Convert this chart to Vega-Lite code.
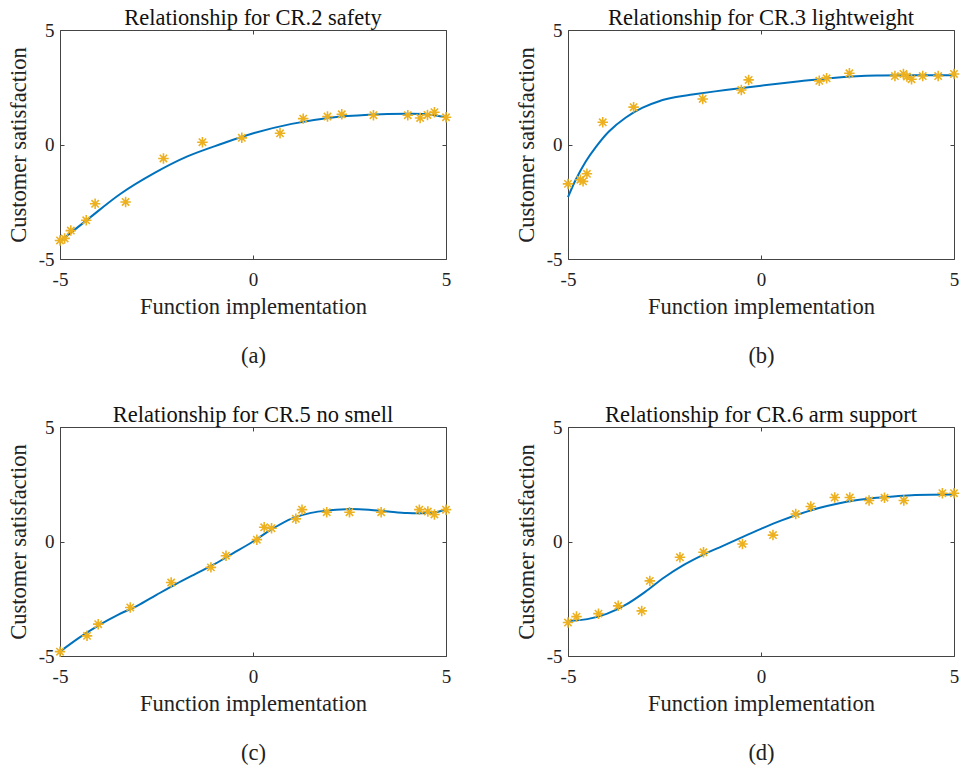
{
  "$schema": "https://vega.github.io/schema/vega-lite/v6.json",
  "background": "white",
  "padding": {"left": 6, "top": 6, "right": 5, "bottom": 5},
  "bounds": "flush",
  "spacing": {"row": 168, "column": 122},
  "columns": 2,
  "datasets": {
    "points": [
      {"p": "a", "x": -5, "y": -4.19}, {"p": "a", "x": -4.88, "y": -4.1}, {"p": "a", "x": -4.72, "y": -3.76},
      {"p": "a", "x": -4.32, "y": -3.31}, {"p": "a", "x": -4.09, "y": -2.59}, {"p": "a", "x": -3.3, "y": -2.51},
      {"p": "a", "x": -2.32, "y": -0.61}, {"p": "a", "x": -1.31, "y": 0.1}, {"p": "a", "x": -0.29, "y": 0.29},
      {"p": "a", "x": 0.7, "y": 0.49}, {"p": "a", "x": 1.3, "y": 1.13}, {"p": "a", "x": 1.93, "y": 1.22},
      {"p": "a", "x": 2.3, "y": 1.32}, {"p": "a", "x": 3.12, "y": 1.28}, {"p": "a", "x": 4.01, "y": 1.28},
      {"p": "a", "x": 4.33, "y": 1.16}, {"p": "a", "x": 4.52, "y": 1.29}, {"p": "a", "x": 4.7, "y": 1.41},
      {"p": "a", "x": 5, "y": 1.19},
      {"p": "b", "x": -5, "y": -1.72}, {"p": "b", "x": -4.68, "y": -1.54}, {"p": "b", "x": -4.61, "y": -1.61},
      {"p": "b", "x": -4.51, "y": -1.28}, {"p": "b", "x": -4.1, "y": 0.97}, {"p": "b", "x": -3.3, "y": 1.63},
      {"p": "b", "x": -1.51, "y": 1.99}, {"p": "b", "x": -0.51, "y": 2.38}, {"p": "b", "x": -0.32, "y": 2.82},
      {"p": "b", "x": 1.51, "y": 2.78}, {"p": "b", "x": 1.7, "y": 2.89}, {"p": "b", "x": 2.29, "y": 3.11},
      {"p": "b", "x": 3.47, "y": 2.99}, {"p": "b", "x": 3.69, "y": 3.08}, {"p": "b", "x": 3.78, "y": 2.97},
      {"p": "b", "x": 3.9, "y": 2.85}, {"p": "b", "x": 4.19, "y": 2.99}, {"p": "b", "x": 4.59, "y": 2.99},
      {"p": "b", "x": 5, "y": 3.08},
      {"p": "c", "x": -5, "y": -4.81}, {"p": "c", "x": -4.3, "y": -4.12}, {"p": "c", "x": -4.01, "y": -3.61},
      {"p": "c", "x": -3.18, "y": -2.88}, {"p": "c", "x": -2.12, "y": -1.79}, {"p": "c", "x": -1.09, "y": -1.13},
      {"p": "c", "x": -0.7, "y": -0.62}, {"p": "c", "x": 0.1, "y": 0.08}, {"p": "c", "x": 0.29, "y": 0.62},
      {"p": "c", "x": 0.48, "y": 0.58}, {"p": "c", "x": 1.11, "y": 0.99}, {"p": "c", "x": 1.27, "y": 1.39},
      {"p": "c", "x": 1.91, "y": 1.28}, {"p": "c", "x": 2.5, "y": 1.28}, {"p": "c", "x": 3.32, "y": 1.28},
      {"p": "c", "x": 4.31, "y": 1.39}, {"p": "c", "x": 4.53, "y": 1.31}, {"p": "c", "x": 4.7, "y": 1.18},
      {"p": "c", "x": 5, "y": 1.39},
      {"p": "d", "x": -5, "y": -3.54}, {"p": "d", "x": -4.78, "y": -3.28}, {"p": "d", "x": -4.21, "y": -3.15},
      {"p": "d", "x": -3.7, "y": -2.81}, {"p": "d", "x": -3.09, "y": -3.03}, {"p": "d", "x": -2.88, "y": -1.72},
      {"p": "d", "x": -2.1, "y": -0.69}, {"p": "d", "x": -1.49, "y": -0.47}, {"p": "d", "x": -0.48, "y": -0.11},
      {"p": "d", "x": 0.31, "y": 0.28}, {"p": "d", "x": 0.9, "y": 1.2}, {"p": "d", "x": 1.29, "y": 1.53},
      {"p": "d", "x": 1.91, "y": 1.92}, {"p": "d", "x": 2.3, "y": 1.92}, {"p": "d", "x": 2.8, "y": 1.79},
      {"p": "d", "x": 3.2, "y": 1.91}, {"p": "d", "x": 3.7, "y": 1.79}, {"p": "d", "x": 4.7, "y": 2.11},
      {"p": "d", "x": 5, "y": 2.11}
    ],
    "curves": [
      {"p": "a", "x": -5, "y": -4.23}, {"p": "a", "x": -4.29, "y": -3.28}, {"p": "a", "x": -3.43, "y": -2.15},
      {"p": "a", "x": -2.56, "y": -1.25}, {"p": "a", "x": -1.7, "y": -0.52}, {"p": "a", "x": -0.83, "y": 0.02},
      {"p": "a", "x": 0.03, "y": 0.5}, {"p": "a", "x": 1, "y": 0.9}, {"p": "a", "x": 2, "y": 1.17},
      {"p": "a", "x": 3, "y": 1.3}, {"p": "a", "x": 4, "y": 1.34}, {"p": "a", "x": 4.5, "y": 1.32},
      {"p": "a", "x": 5, "y": 1.19},
      {"p": "b", "x": -5, "y": -2.3}, {"p": "b", "x": -4.8, "y": -1.54}, {"p": "b", "x": -4.54, "y": -0.74},
      {"p": "b", "x": -4.28, "y": -0.11}, {"p": "b", "x": -3.94, "y": 0.57}, {"p": "b", "x": -3.51, "y": 1.17},
      {"p": "b", "x": -3.08, "y": 1.6}, {"p": "b", "x": -2.64, "y": 1.89}, {"p": "b", "x": -2.2, "y": 2.07},
      {"p": "b", "x": -1.78, "y": 2.18}, {"p": "b", "x": -0.92, "y": 2.38}, {"p": "b", "x": 0, "y": 2.57},
      {"p": "b", "x": 1, "y": 2.76}, {"p": "b", "x": 2, "y": 2.93}, {"p": "b", "x": 3, "y": 3.01},
      {"p": "b", "x": 4, "y": 3.02}, {"p": "b", "x": 5, "y": 3.02},
      {"p": "c", "x": -5, "y": -4.81}, {"p": "c", "x": -4.5, "y": -4.2}, {"p": "c", "x": -4, "y": -3.66},
      {"p": "c", "x": -3.5, "y": -3.2}, {"p": "c", "x": -3, "y": -2.81}, {"p": "c", "x": -2.5, "y": -2.33},
      {"p": "c", "x": -2, "y": -1.86}, {"p": "c", "x": -1.5, "y": -1.42}, {"p": "c", "x": -1, "y": -0.99},
      {"p": "c", "x": -0.5, "y": -0.5}, {"p": "c", "x": 0, "y": 0.0}, {"p": "c", "x": 0.5, "y": 0.55},
      {"p": "c", "x": 1, "y": 1.0}, {"p": "c", "x": 1.5, "y": 1.25}, {"p": "c", "x": 2, "y": 1.36},
      {"p": "c", "x": 2.5, "y": 1.42}, {"p": "c", "x": 3, "y": 1.39}, {"p": "c", "x": 3.5, "y": 1.31},
      {"p": "c", "x": 4, "y": 1.24}, {"p": "c", "x": 4.5, "y": 1.24}, {"p": "c", "x": 4.8, "y": 1.3},
      {"p": "c", "x": 5, "y": 1.42},
      {"p": "d", "x": -5, "y": -3.47}, {"p": "d", "x": -4.5, "y": -3.39}, {"p": "d", "x": -4, "y": -3.16},
      {"p": "d", "x": -3.5, "y": -2.76}, {"p": "d", "x": -3, "y": -2.2}, {"p": "d", "x": -2.5, "y": -1.56},
      {"p": "d", "x": -2, "y": -1.02}, {"p": "d", "x": -1.5, "y": -0.58}, {"p": "d", "x": -1, "y": -0.2},
      {"p": "d", "x": -0.5, "y": 0.18}, {"p": "d", "x": 0, "y": 0.55}, {"p": "d", "x": 0.5, "y": 0.9},
      {"p": "d", "x": 1, "y": 1.2}, {"p": "d", "x": 1.5, "y": 1.46}, {"p": "d", "x": 2, "y": 1.66},
      {"p": "d", "x": 2.5, "y": 1.81}, {"p": "d", "x": 3, "y": 1.91}, {"p": "d", "x": 3.5, "y": 1.98},
      {"p": "d", "x": 4, "y": 2.03}, {"p": "d", "x": 5, "y": 2.05}
    ]
  },
  "concat": [
    {
      "width": 386, "height": 229,
      "title": "Relationship for CR.2 safety",
      "layer": [
        {"data": {"name": "curves"}, "transform": [{"filter": "datum.p == 'a'"}],
         "mark": {"type": "line", "color": "#0072BD", "strokeWidth": 2, "interpolate": "catmull-rom"},
         "encoding": {
           "x": {"field": "x", "type": "quantitative", "scale": {"domain": [-5, 5], "nice": false},
                 "axis": {"orient": "bottom", "values": [-5, 0, 5], "labelExpr": "'' + datum.value", "title": ["Function implementation", "(a)\u00a0\u00a0\u00a0\u00a0"]}},
           "y": {"field": "y", "type": "quantitative", "scale": {"domain": [-5, 5], "nice": false},
                 "axis": {"orient": "left", "values": [-5, 0, 5], "labelExpr": "'' + datum.value", "title": "Customer satisfaction"}}}},
        {"data": {"name": "points"}, "transform": [{"filter": "datum.p == 'a'"}],
         "mark": {"type": "point", "shape": "M0,-1L0,1M-1,0L1,0M-0.7,-0.7L0.7,0.7M-0.7,0.7L0.7,-0.7", "filled": false, "stroke": "#EDB120", "strokeWidth": 1.6, "size": 110, "opacity": 1},
         "encoding": {
           "x": {"field": "x", "type": "quantitative", "axis": {"orient": "top", "values": [-5, 0, 5], "labels": false, "title": null}},
           "y": {"field": "y", "type": "quantitative", "axis": {"orient": "right", "values": [-5, 0, 5], "labels": false, "title": null}}}}
      ],
      "resolve": {"axis": {"x": "independent", "y": "independent"}}
    },
    {
      "width": 386, "height": 229,
      "title": "Relationship for CR.3 lightweight",
      "layer": [
        {"data": {"name": "curves"}, "transform": [{"filter": "datum.p == 'b'"}],
         "mark": {"type": "line", "color": "#0072BD", "strokeWidth": 2, "interpolate": "catmull-rom"},
         "encoding": {
           "x": {"field": "x", "type": "quantitative", "scale": {"domain": [-5, 5], "nice": false},
                 "axis": {"orient": "bottom", "values": [-5, 0, 5], "labelExpr": "'' + datum.value", "title": ["Function implementation", "(b)\u00a0\u00a0\u00a0\u00a0\u00a0\u00a0\u00a0"]}},
           "y": {"field": "y", "type": "quantitative", "scale": {"domain": [-5, 5], "nice": false},
                 "axis": {"orient": "left", "values": [-5, 0, 5], "labelExpr": "'' + datum.value", "title": "Customer satisfaction"}}}},
        {"data": {"name": "points"}, "transform": [{"filter": "datum.p == 'b'"}],
         "mark": {"type": "point", "shape": "M0,-1L0,1M-1,0L1,0M-0.7,-0.7L0.7,0.7M-0.7,0.7L0.7,-0.7", "filled": false, "stroke": "#EDB120", "strokeWidth": 1.6, "size": 110, "opacity": 1},
         "encoding": {
           "x": {"field": "x", "type": "quantitative", "axis": {"orient": "top", "values": [-5, 0, 5], "labels": false, "title": null}},
           "y": {"field": "y", "type": "quantitative", "axis": {"orient": "right", "values": [-5, 0, 5], "labels": false, "title": null}}}}
      ],
      "resolve": {"axis": {"x": "independent", "y": "independent"}}
    },
    {
      "width": 386, "height": 229,
      "title": "Relationship for CR.5 no smell",
      "layer": [
        {"data": {"name": "curves"}, "transform": [{"filter": "datum.p == 'c'"}],
         "mark": {"type": "line", "color": "#0072BD", "strokeWidth": 2, "interpolate": "catmull-rom"},
         "encoding": {
           "x": {"field": "x", "type": "quantitative", "scale": {"domain": [-5, 5], "nice": false},
                 "axis": {"orient": "bottom", "values": [-5, 0, 5], "labelExpr": "'' + datum.value", "title": ["Function implementation", "(c)\u00a0\u00a0\u00a0\u00a0"]}},
           "y": {"field": "y", "type": "quantitative", "scale": {"domain": [-5, 5], "nice": false},
                 "axis": {"orient": "left", "values": [-5, 0, 5], "labelExpr": "'' + datum.value", "title": "Customer satisfaction"}}}},
        {"data": {"name": "points"}, "transform": [{"filter": "datum.p == 'c'"}],
         "mark": {"type": "point", "shape": "M0,-1L0,1M-1,0L1,0M-0.7,-0.7L0.7,0.7M-0.7,0.7L0.7,-0.7", "filled": false, "stroke": "#EDB120", "strokeWidth": 1.6, "size": 110, "opacity": 1},
         "encoding": {
           "x": {"field": "x", "type": "quantitative", "axis": {"orient": "top", "values": [-5, 0, 5], "labels": false, "title": null}},
           "y": {"field": "y", "type": "quantitative", "axis": {"orient": "right", "values": [-5, 0, 5], "labels": false, "title": null}}}}
      ],
      "resolve": {"axis": {"x": "independent", "y": "independent"}}
    },
    {
      "width": 386, "height": 229,
      "title": "Relationship for CR.6 arm support",
      "layer": [
        {"data": {"name": "curves"}, "transform": [{"filter": "datum.p == 'd'"}],
         "mark": {"type": "line", "color": "#0072BD", "strokeWidth": 2, "interpolate": "catmull-rom"},
         "encoding": {
           "x": {"field": "x", "type": "quantitative", "scale": {"domain": [-5, 5], "nice": false},
                 "axis": {"orient": "bottom", "values": [-5, 0, 5], "labelExpr": "'' + datum.value", "title": ["Function implementation", "(d)\u00a0\u00a0\u00a0\u00a0\u00a0\u00a0\u00a0"]}},
           "y": {"field": "y", "type": "quantitative", "scale": {"domain": [-5, 5], "nice": false},
                 "axis": {"orient": "left", "values": [-5, 0, 5], "labelExpr": "'' + datum.value", "title": "Customer satisfaction"}}}},
        {"data": {"name": "points"}, "transform": [{"filter": "datum.p == 'd'"}],
         "mark": {"type": "point", "shape": "M0,-1L0,1M-1,0L1,0M-0.7,-0.7L0.7,0.7M-0.7,0.7L0.7,-0.7", "filled": false, "stroke": "#EDB120", "strokeWidth": 1.6, "size": 110, "opacity": 1},
         "encoding": {
           "x": {"field": "x", "type": "quantitative", "axis": {"orient": "top", "values": [-5, 0, 5], "labels": false, "title": null}},
           "y": {"field": "y", "type": "quantitative", "axis": {"orient": "right", "values": [-5, 0, 5], "labels": false, "title": null}}}}
      ],
      "resolve": {"axis": {"x": "independent", "y": "independent"}}
    }
  ],
  "config": {
    "font": "Liberation Serif",
    "view": {"stroke": "#444", "strokeWidth": 1},
    "axis": {
      "grid": false, "domain": false, "labelFlush": false,
      "tickColor": "#444", "tickSize": -4, "tickWidth": 1,
      "labelFont": "Liberation Serif", "titleFont": "Liberation Serif",
      "labelFontSize": 19, "labelColor": "#222", "labelPadding": 15,
      "titleFontSize": 22.5, "titleFontWeight": "normal", "titleColor": "#222", "titleLineHeight": 49
    },
    "axisX": {"titlePadding": 6},
    "axisY": {"titlePadding": 8, "labelPadding": 10},
    "title": {"font": "Liberation Serif", "fontSize": 22.5, "fontWeight": "normal", "color": "#111", "offset": -8}
  }
}
